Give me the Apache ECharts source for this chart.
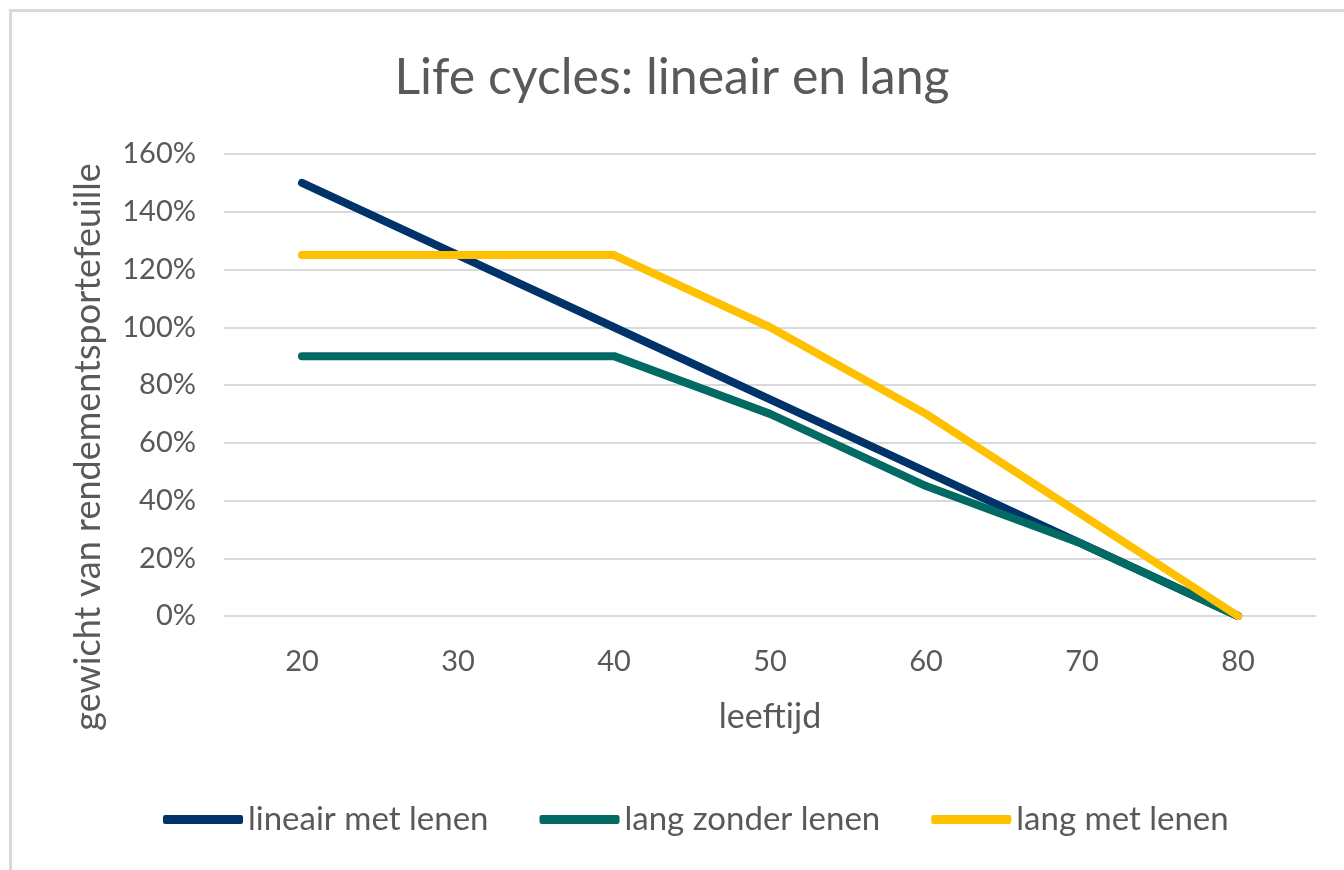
<!DOCTYPE html>
<html>
<head>
<meta charset="utf-8">
<script src="https://cdn.jsdelivr.net/npm/echarts@6/dist/echarts.min.js"></script>
<style>
  html, body { margin: 0; padding: 0; background: #fff; }
  #main { width: 1344px; height: 870px; }
</style>
</head>
<body>
<div id="main"></div>
<script>
// leeftijd (x-as)
var ages = ["20", "30", "40", "50", "60", "70", "80"];
// gewicht in procenten
var lineairMetLenen = [150, 125, 100, 75, 50, 25, 0];
var langZonderLenen = [90, 90, 90, 70, 45, 25, 0];
var langMetLenen = [125, 125, 125, 100, 70, 35, 0];

var seriesNames = ["lineair met lenen", "lang zonder lenen", "lang met lenen"];
var seriesColors = ["#00336a", "#006a63", "#ffc000"];

var textColor = "#595959";
var font = "Lato";

function makeLine(name, data, color) {
  return {
    name: name,
    type: "line",
    data: data,
    symbol: "none",
    smooth: false,
    itemStyle: { color: color },
    lineStyle: { color: color, width: 8, cap: "round", join: "round" }
  };
}

var chart = echarts.init(document.getElementById("main"));
var option = {
  backgroundColor: "#fff",
  textStyle: { fontFamily: font, color: textColor },
  title: {
    text: "Life cycles: lineair en lang",
    left: "center",
    top: 48,
    textStyle: { fontFamily: font, fontSize: 50, fontWeight: "normal", color: textColor }
  },
  graphic: [
    {
      // kader om de grafiek
      type: "rect",
      shape: { x: 10.5, y: 10.5, width: 1400, height: 900 },
      style: { fill: "none", stroke: "#d9d9d9", lineWidth: 3 },
      silent: true
    },
    {
      type: "text",
      x: 88,
      y: 447,
      rotation: Math.PI / 2,
      style: {
        text: "gewicht van rendementsportefeuille",
        font: "36px " + font,
        fill: textColor,
        align: "center",
        verticalAlign: "middle"
      }
    }
  ],
  legend: {
    bottom: 29,
    left: 158,
    icon: "roundRect",
    itemWidth: 80,
    itemHeight: 9,
    itemGap: 51,
    data: seriesNames,
    textStyle: { fontFamily: font, fontSize: 33, color: textColor }
  },
  grid: { left: 224, right: 28, top: 154, bottom: 254 },
  xAxis: {
    type: "category",
    data: ages,
    boundaryGap: true,
    name: "leeftijd",
    nameLocation: "middle",
    nameGap: 84,
    nameTextStyle: { fontFamily: font, fontSize: 34, color: textColor },
    axisLine: { show: false },
    axisTick: { show: false },
    axisLabel: { fontFamily: font, fontSize: 29, color: textColor, margin: 31 }
  },
  yAxis: {
    type: "value",
    min: 0,
    max: 160,
    interval: 20,
    axisLine: { show: false },
    axisTick: { show: false },
    axisLabel: {
      fontFamily: font,
      fontSize: 29,
      color: textColor,
      margin: 28,
      formatter: "{value}%"
    },
    splitLine: { lineStyle: { color: "#d9d9d9", width: 2 } }
  },
  series: [
    makeLine(seriesNames[0], lineairMetLenen, seriesColors[0]),
    makeLine(seriesNames[1], langZonderLenen, seriesColors[1]),
    makeLine(seriesNames[2], langMetLenen, seriesColors[2])
  ]
};
chart.setOption(option);
</script>
</body>
</html>
